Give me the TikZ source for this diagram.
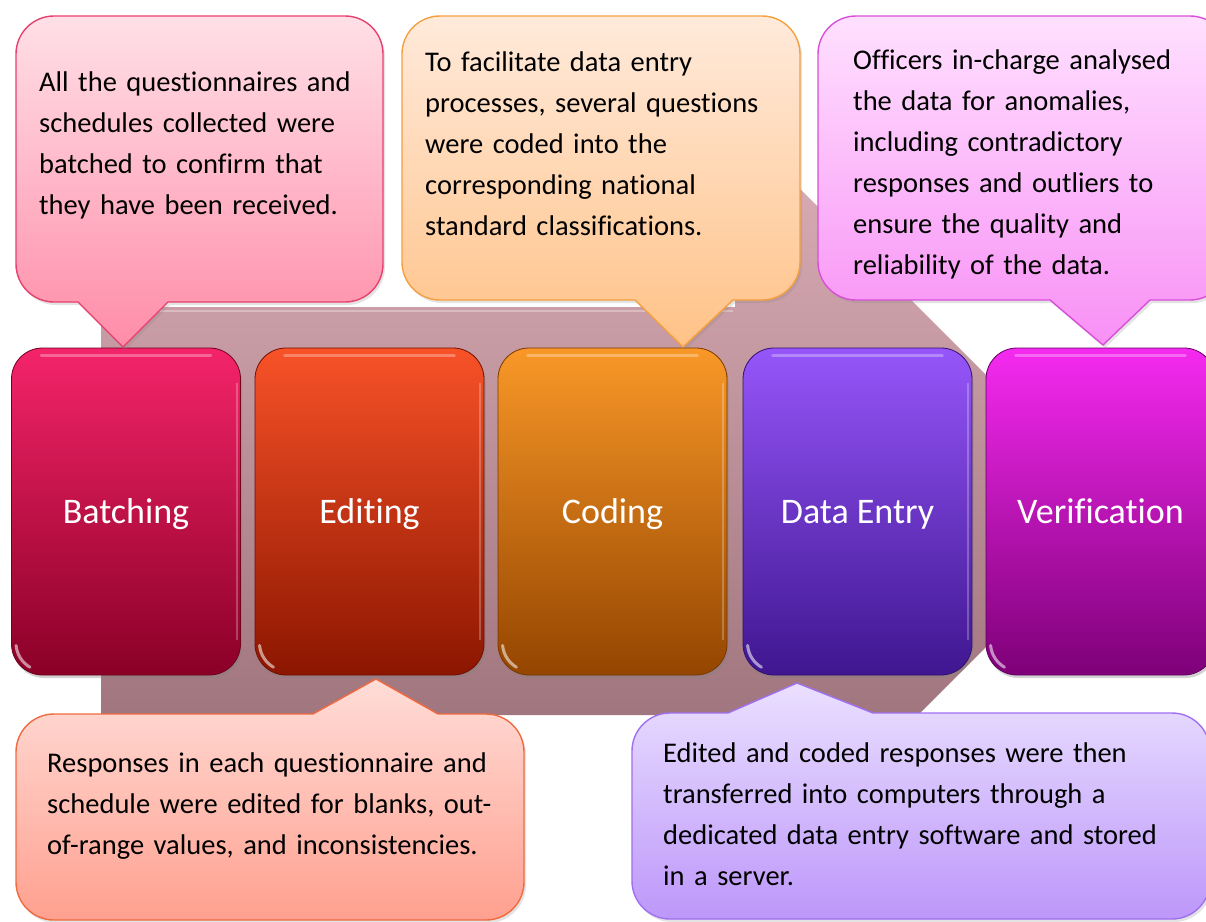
\documentclass[tikz,border=0pt]{standalone}
\usepackage{fontspec}
\setmainfont{Carlito}[Ligatures={NoCommon}]
\usetikzlibrary{shadows}
\definecolor{bgtop}{HTML}{DDB0B8}
\definecolor{bgbot}{HTML}{8E646D}
% stage colours
\definecolor{aT}{HTML}{F4246A}\definecolor{aM}{HTML}{D0083F}\definecolor{aB}{HTML}{8A0026}\definecolor{aD}{HTML}{70001E}
\definecolor{bT}{HTML}{F85228}\definecolor{bM}{HTML}{D63010}\definecolor{bB}{HTML}{8C1600}\definecolor{bD}{HTML}{701000}
\definecolor{cT}{HTML}{F99828}\definecolor{cM}{HTML}{DD7008}\definecolor{cB}{HTML}{944500}\definecolor{cD}{HTML}{7A3800}
\definecolor{dT}{HTML}{9656FA}\definecolor{dM}{HTML}{6A2AD8}\definecolor{dB}{HTML}{3F1690}\definecolor{dD}{HTML}{301070}
\definecolor{eT}{HTML}{F52AF0}\definecolor{eM}{HTML}{C808C0}\definecolor{eB}{HTML}{7E0078}\definecolor{eD}{HTML}{600060}
% callout colours
\definecolor{pAt}{HTML}{FFE0E7}\definecolor{pAb}{HTML}{FF8CA8}\definecolor{pAd}{HTML}{E8406E}
\definecolor{pBt}{HTML}{FFDDD8}\definecolor{pBb}{HTML}{FFA08F}\definecolor{pBd}{HTML}{F06A40}
\definecolor{pCt}{HTML}{FFEADB}\definecolor{pCb}{HTML}{FFC287}\definecolor{pCd}{HTML}{F5A040}
\definecolor{pDt}{HTML}{EAE0FF}\definecolor{pDb}{HTML}{BD97FA}\definecolor{pDd}{HTML}{A070F0}
\definecolor{pEt}{HTML}{FFE0FF}\definecolor{pEb}{HTML}{F890F5}\definecolor{pEd}{HTML}{D850D8}
\def\crad{38}
\def\cctl{17}
% callout with pointer on the bottom edge: style, L, T, R, B, p1, p2, tipx, tipy
\newcommand{\calloutdown}[9]{%
  \path[#1] ({#2+\crad},#3) -- ({#4-\crad},#3)
    .. controls ({#4-\cctl},#3) and (#4,{#3+\cctl}) .. (#4,{#3+\crad})
    -- (#4,{#5-\crad})
    .. controls (#4,{#5-\cctl}) and ({#4-\cctl},#5) .. ({#4-\crad},#5)
    -- (#7,#5) -- (#8,#9) -- (#6,#5) -- ({#2+\crad},#5)
    .. controls ({#2+\cctl},#5) and (#2,{#5-\cctl}) .. (#2,{#5-\crad})
    -- (#2,{#3+\crad})
    .. controls (#2,{#3+\cctl}) and ({#2+\cctl},#3) .. ({#2+\crad},#3) -- cycle;}
% callout with pointer on the top edge
\newcommand{\calloutup}[9]{%
  \path[#1] ({#2+\crad},#3) -- (#6,#3) -- (#8,#9) -- (#7,#3) -- ({#4-\crad},#3)
    .. controls ({#4-\cctl},#3) and (#4,{#3+\cctl}) .. (#4,{#3+\crad})
    -- (#4,{#5-\crad})
    .. controls (#4,{#5-\cctl}) and ({#4-\cctl},#5) .. ({#4-\crad},#5)
    -- ({#2+\crad},#5)
    .. controls ({#2+\cctl},#5) and (#2,{#5-\cctl}) .. (#2,{#5-\crad})
    -- (#2,{#3+\crad})
    .. controls (#2,{#3+\cctl}) and ({#2+\cctl},#3) .. ({#2+\crad},#3) -- cycle;}
\begin{document}
\begin{tikzpicture}[x=1pt,y=-1pt,
  stage/.style={rounded corners=31pt, minimum width=229pt, minimum height=327pt,
    inner sep=0pt, text=white, font=\fontsize{36pt}{40pt}\selectfont,
    text height=23pt, text depth=0pt, line width=0.8pt,
    drop shadow={shadow xshift=1.5pt, shadow yshift=-3pt, opacity=0.35}},
  gloss/.style={white, opacity=0.3, line width=3pt, line cap=round},
  bubble/.style={line width=1.4pt, line join=round,
    drop shadow={shadow xshift=2pt, shadow yshift=-3pt, opacity=0.22}},
  note/.style={anchor=base west, inner sep=0pt, text width=560pt, align=left,
    font=\fontsize{28.5pt}{41pt}\selectfont, text=black}]
\useasboundingbox (0,0) rectangle (1206,921);
\clip (0,0) rectangle (1206,921);
\fill[white] (0,0) rectangle (1206,921);

% background block arrow
\path[top color=bgtop, bottom color=bgbot]
  (101,307) -- (735,307) -- (735,124) -- (1122,511) -- (735,898) -- (735,715) -- (101,715) -- cycle;
\draw[white, opacity=0.3, line width=2.5pt] (103,311) -- (733,311);

% stages
\node[stage, top color=aT, middle color=aM, bottom color=aB, draw=aD] (b1) at (126,511.5) {Batching};
\node[stage, top color=bT, middle color=bM, bottom color=bB, draw=bD] (b2) at (369.5,511.5) {Editing};
\node[stage, top color=cT, middle color=cM, bottom color=cB, draw=cD] (b3) at (612.5,511.5) {Coding};
\node[stage, top color=dT, middle color=dM, bottom color=dB, draw=dD] (b4) at (857.5,511.5) {Data Entry};
\node[stage, top color=eT, middle color=eM, bottom color=eB, draw=eD] (b5) at (1100.5,511.5) {Verification};
\foreach \b in {b1,b2,b3,b4,b5}{
  \draw[gloss] ([xshift=30pt,yshift=-8pt]\b.north west) -- ([xshift=-30pt,yshift=-8pt]\b.north east);
  \draw[gloss, opacity=0.25, line width=2pt] ([xshift=-4pt,yshift=-36pt]\b.north east) -- ([xshift=-4pt,yshift=36pt]\b.south east);
  \draw[gloss, opacity=0.55, line width=3pt] ([xshift=5pt,yshift=30pt]\b.south west) arc[start angle=185, end angle=240, radius=28pt];
}

% callouts
\calloutdown{bubble, top color=pAt, bottom color=pAb, draw=pAd}{16}{16}{383}{302}{78}{168}{123}{347}
\calloutdown{bubble, top color=pCt, bottom color=pCb, draw=pCd}{402}{16}{800}{300}{635}{733}{683}{347}
\calloutdown{bubble, top color=pEt, bottom color=pEb, draw=pEd}{818}{16}{1228}{300}{1050}{1150}{1103}{345}
\calloutup{bubble, top color=pBt, bottom color=pBb, draw=pBd}{16}{714}{524}{920}{313}{438}{376}{679}
\calloutup{bubble, top color=pDt, bottom color=pDb, draw=pDd}{632}{713}{1210}{919}{728}{873}{797}{683}

% callout texts
\node[note] (t1) at (39,91) {All the questionnaires and\\schedules collected were\\batched to confirm that\\they have been received.};
\node[note] (t3) at (425,71) {To facilitate data entry\\processes, several questions\\were coded into the\\corresponding national\\standard classifications.};
\node[note] (t5) at (853,69) {Officers in-charge analysed\\the data for anomalies,\\including contradictory\\responses and outliers to\\ensure the quality and\\reliability of the data.};
\node[note] (t2) at (47,772) {Responses in each questionnaire and\\schedule were edited for blanks, out-\\of-range values, and inconsistencies.};
\node[note] (t4) at (663,762) {Edited and coded responses were then\\transferred into computers through a\\dedicated data entry software and stored\\in a server.};
\end{tikzpicture}
\end{document}
